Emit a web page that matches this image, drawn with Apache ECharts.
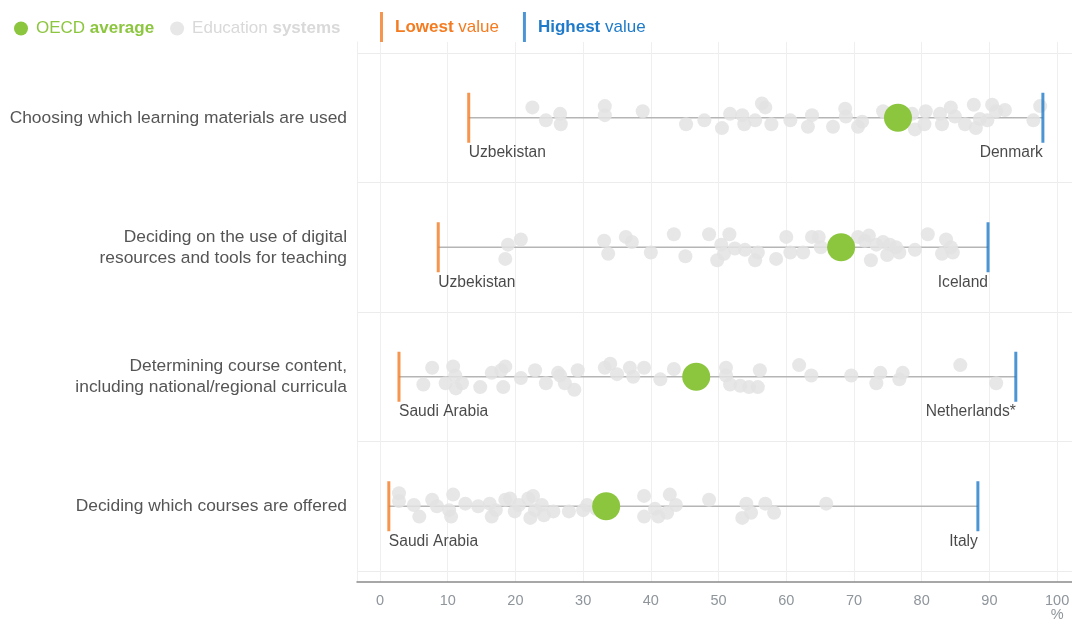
<!DOCTYPE html>
<html>
<head>
<meta charset="utf-8">
<script src="https://cdn.jsdelivr.net/npm/echarts@6/dist/echarts.min.js"></script>
<style>
html,body{margin:0;padding:0;background:#fff;}
#chart{width:1072px;height:619px;}
</style>
</head>
<body>
<div id="chart"></div>
<script>
// ---- Data ----
const rowNames = [
  'Choosing which learning materials are used',
  'Deciding on the use of digital\nresources and tools for teaching',
  'Determining course content,\nincluding national/regional curricula',
  'Deciding which courses are offered'
];
const oecdAverage = [76.5, 68.1, 46.7, 33.4];
const lowestValue = [13.1, 8.6, 2.8, 1.3];
const lowestCountry = ['Uzbekistan', 'Uzbekistan', 'Saudi Arabia', 'Saudi Arabia'];
const highestValue = [97.9, 89.8, 93.9, 88.3];
const highestCountry = ['Denmark', 'Iceland', 'Netherlands*', 'Italy'];
const xTicks = [0, 10, 20, 30, 40, 50, 60, 70, 80, 90, 100];

// Education systems (%), one array per row, with vertical jitter (% of row height)
const systems1 = [22.5,24.5,26.6,26.7,33.2,33.2,38.8,45.2,47.9,50.5,51.7,53.5,53.8,55.4,56.4,56.9,57.8,60.6,63.2,63.8,66.9,68.7,68.8,70.6,71.2,74.3,78.6,79.0,80.4,80.6,82.7,83.0,84.3,84.9,86.4,87.7,88.0,88.6,89.7,90.4,91.0,92.3,96.5,97.5];
const jitter1 = [-8,2,-3,5,-9,-2,-5,5,2,8,-3,-2,5,2,-11,-8,5,2,7,-2,7,-7,-1,7,3,-5,-3,9,5,-5,-3,5,-8,-1,5,-10,8,1,2,-10,-5,-6,2,-9];
const systems2 = [18.9,20.8,18.5,33.1,33.7,36.3,37.2,40.0,43.4,45.1,48.6,49.8,50.4,50.8,51.6,52.4,53.9,55.4,55.8,58.5,60.0,60.6,62.5,63.8,64.8,65.1,70.6,71.6,72.2,72.5,73.3,74.3,74.9,75.3,76.2,76.7,79.0,80.9,83.0,83.6,84.3,84.6];
const jitter2 = [-2,-6,9,-5,5,-8,-4,4,-10,7,-10,10,-2,5,-10,1,2,10,4,9,-8,4,4,-8,-8,0,-8,-5,-9,10,-2,-4,6,-2,0,4,2,-10,5,-6,0,4];
const systems3 = [6.4,7.7,9.7,10.8,11.1,11.2,12.1,14.8,16.5,17.9,18.2,18.5,20.8,22.9,24.5,26.3,26.6,27.3,28.7,29.2,33.2,34.0,35.0,36.9,37.4,39.0,41.4,43.4,51.1,51.1,51.7,53.2,54.5,55.8,56.1,61.9,63.7,69.6,73.3,73.9,76.7,77.2,85.7,91.0];
const jitter3 = [6,-7,5,-8,-1,9,5,8,-3,-5,8,-8,1,-5,5,-3,-1,5,10,-5,-7,-10,-2,-7,0,-7,2,-6,-7,-1,6,7,8,8,-5,-9,-1,-1,5,-3,2,-3,-9,5];
const systems4 = [2.8,2.8,5.0,5.8,7.7,8.4,10.2,10.5,10.8,12.6,14.5,16.2,16.5,17.1,18.5,19.2,19.9,20.5,21.9,22.2,22.6,22.9,23.9,24.2,25.6,27.9,30.0,30.6,31.9,39.0,39.0,40.6,41.1,42.4,42.8,43.7,48.6,53.5,54.1,54.8,56.9,58.2,65.9];
const jitter4 = [-10,-4,-1,8,-5,0,3,8,-9,-2,0,-2,8,3,-5,-6,4,-1,-6,9,-8,3,-1,7,4,4,3,-1,2,-8,8,2,8,5,-9,-1,-5,9,-2,5,-2,5,-2];

// ---- Build series data ----
const systemRows = [[systems1, jitter1], [systems2, jitter2], [systems3, jitter3], [systems4, jitter4]];
const systemsData = [];
systemRows.forEach(([vals, jit], r) => {
  vals.forEach((v, i) => systemsData.push([v, r + jit[i] / 100]));
});
const rowIdx = rowNames.map((_, i) => i);
const avgData = rowIdx.map(r => [oecdAverage[r], r]);
const lowData = rowIdx.map(r => ({ value: [lowestValue[r], r], name: lowestCountry[r] }));
const highData = rowIdx.map(r => ({ value: [highestValue[r], r], name: highestCountry[r] }));
const rangeData = rowIdx.map(r => [lowestValue[r], highestValue[r], r]);

const FONT = '"Liberation Sans", Arial, sans-serif';
const GREEN = '#8cc63f', GREY = '#d9d9d9', ORANGE = '#f47b20', BLUE = '#1f7bc9';

const chart = echarts.init(document.getElementById('chart'), null, { renderer: 'canvas' });
chart.setOption({
  animation: false,
  textStyle: { fontFamily: FONT },
  legend: [
    {
      left: 9, top: 15,
      data: [
        { name: 'OECD average', textStyle: { color: GREEN } },
        { name: 'Education systems', textStyle: { color: GREY } }
      ],
      icon: 'circle', itemWidth: 14, itemHeight: 14, itemGap: 16,
      selectedMode: false,
      textStyle: {
        fontSize: 17, fontFamily: FONT, padding: [0, 0, 0, 3],
        rich: {
          g: { color: GREEN, fontWeight: 'bold', fontSize: 17, fontFamily: FONT },
          s: { color: GREY, fontWeight: 'bold', fontSize: 17, fontFamily: FONT }
        }
      },
      formatter: n => n === 'OECD average' ? 'OECD {g|average}' : 'Education {s|systems}'
    },
    {
      left: 375, top: 7,
      data: [
        { name: 'Lowest value', textStyle: { color: ORANGE } },
        { name: 'Highest value', textStyle: { color: BLUE } }
      ],
      icon: 'rect', itemWidth: 3, itemHeight: 30, itemGap: 24,
      selectedMode: false,
      textStyle: {
        fontSize: 17, fontFamily: FONT, padding: [0, 0, 0, 7],
        rich: {
          o: { color: ORANGE, fontWeight: 'bold', fontSize: 17, fontFamily: FONT },
          b: { color: BLUE, fontWeight: 'bold', fontSize: 17, fontFamily: FONT }
        }
      },
      formatter: n => n === 'Lowest value' ? '{o|Lowest} value' : '{b|Highest} value'
    }
  ],
  grid: { left: 357, right: 0, top: 42, bottom: 37, containLabel: false, outerBoundsMode: 'none' },
  xAxis: {
    type: 'value', min: -3.4, max: 102.2,
    axisLine: { onZero: false, lineStyle: { color: '#8a8a8a', width: 1.5 } },
    axisTick: { show: false, customValues: xTicks },
    axisLabel: {
      customValues: xTicks, color: '#8e959b', fontSize: 14.5, margin: 12, lineHeight: 14,
      fontFamily: FONT,
      formatter: v => v === 100 ? '100\n%' : String(v)
    },
    splitLine: { show: true, lineStyle: { color: '#efefef', width: 1 } }
  },
  yAxis: {
    type: 'value', inverse: true, min: -0.585, max: 3.585,
    axisLine: { show: true, onZero: false, lineStyle: { color: '#efefef', width: 1 } },
    axisTick: { show: false, customValues: [-0.5, 0.5, 1.5, 2.5, 3.5] },
    axisLabel: {
      customValues: rowIdx, color: '#555555', fontSize: 17.4, margin: 10, lineHeight: 21,
      fontFamily: FONT, align: 'right',
      formatter: v => rowNames[Math.round(v)]
    },
    splitLine: { show: true, lineStyle: { color: '#ececec', width: 1 } }
  },
  series: [
    {
      type: 'custom', name: 'range', z: 1, silent: true,
      data: rangeData,
      renderItem: (params, api) => {
        const a = api.coord([api.value(0), api.value(2)]);
        const b = api.coord([api.value(1), api.value(2)]);
        return {
          type: 'line',
          shape: { x1: a[0], y1: a[1], x2: b[0], y2: b[1] },
          style: { stroke: '#b5b5b5', lineWidth: 1.5 }
        };
      }
    },
    {
      type: 'scatter', name: 'Education systems', z: 2,
      symbolSize: 14, data: systemsData,
      itemStyle: { color: '#e3e3e3', opacity: 0.85 }
    },
    {
      type: 'scatter', name: 'Lowest value', z: 3,
      symbol: 'rect', symbolSize: [3, 50], data: lowData,
      itemStyle: { color: ORANGE },
      label: {
        show: true, position: 'bottom', distance: 2, align: 'left',
        formatter: p => p.name, color: '#1a1a1a', fontSize: 15.6, fontFamily: FONT
      }
    },
    {
      type: 'scatter', name: 'Highest value', z: 3,
      symbol: 'rect', symbolSize: [3, 50], data: highData,
      itemStyle: { color: BLUE },
      label: {
        show: true, position: 'bottom', distance: 2, align: 'right',
        formatter: p => p.name, color: '#1a1a1a', fontSize: 15.6, fontFamily: FONT
      }
    },
    {
      type: 'scatter', name: 'OECD average', z: 4,
      symbolSize: 28, data: avgData,
      itemStyle: { color: GREEN, opacity: 1 }
    }
  ]
});
</script>
</body>
</html>
